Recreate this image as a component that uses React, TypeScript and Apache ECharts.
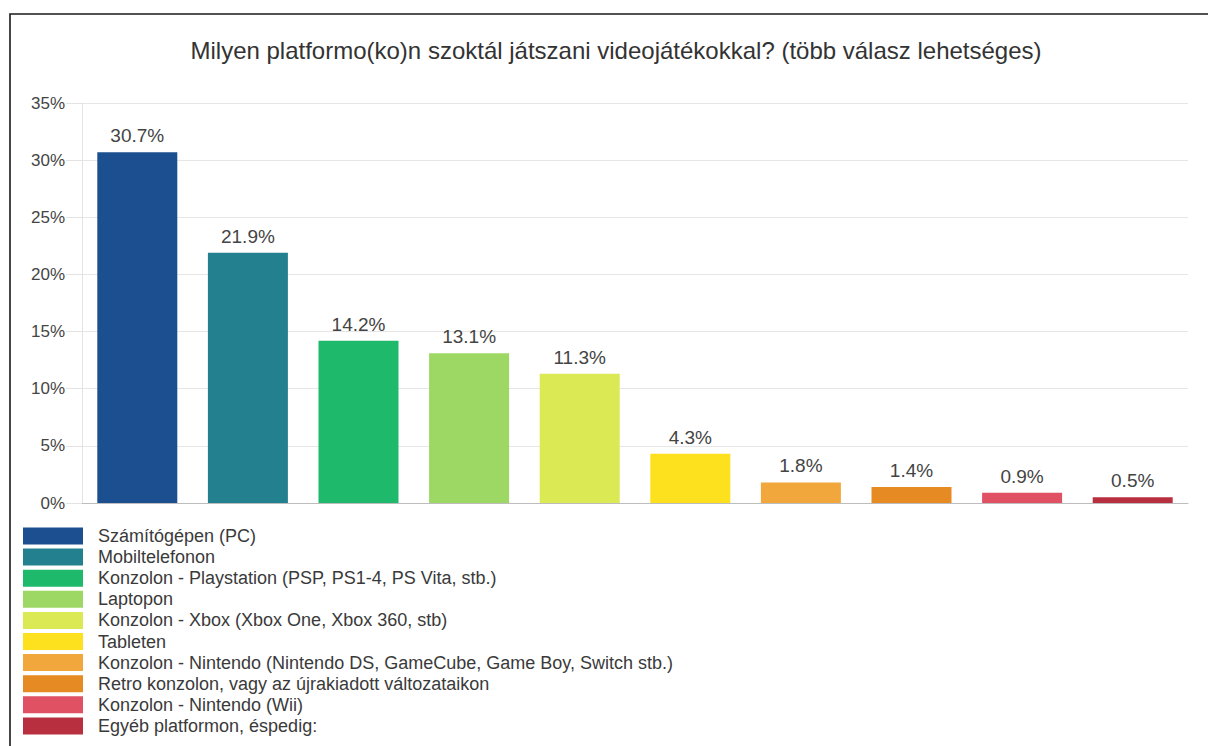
import React, { useEffect, useRef } from "react";
import * as echarts from "echarts";

const categories = [
  "Számítógépen (PC)",
  "Mobiltelefonon",
  "Konzolon - Playstation (PSP, PS1-4, PS Vita, stb.)",
  "Laptopon",
  "Konzolon - Xbox (Xbox One, Xbox 360, stb)",
  "Tableten",
  "Konzolon - Nintendo (Nintendo DS, GameCube, Game Boy, Switch stb.)",
  "Retro konzolon, vagy az újrakiadott változataikon",
  "Konzolon - Nintendo (Wii)",
  "Egyéb platformon, éspedig:",
];
const values = [30.7, 21.9, 14.2, 13.1, 11.3, 4.3, 1.8, 1.4, 0.9, 0.5];
const colors = [
  "#1b4f8f",
  "#23808f",
  "#1fb96c",
  "#9dd864",
  "#dbe955",
  "#fde11e",
  "#f1a73c",
  "#e68a23",
  "#e05263",
  "#b8303f",
];
const yTicks = [0, 5, 10, 15, 20, 25, 30, 35];
const titleText =
  "Milyen platformo(ko)n szoktál játszani videojátékokkal? (több válasz lehetséges)";

const FONT = "'Liberation Sans', Arial, sans-serif";

export default function App() {
  const ref = useRef<HTMLDivElement>(null);
  useEffect(() => {
    if (!ref.current) return;
    const chart = echarts.init(ref.current, null, { renderer: "svg" });
    const series = categories.map((name, i) => ({
      name,
      type: "bar",
      barWidth: 80,
      barGap: "-100%",
      itemStyle: { color: colors[i] },
      label: {
        show: true,
        position: "top",
        distance: 7,
        formatter: (p: any) => `${p.value}%`,
        fontSize: 19,
        color: "#444",
        fontFamily: FONT,
      },
      data: values.map((v, j) => (j === i ? v : "-")),
    }));
    chart.setOption({
      animation: false,
      backgroundColor: "#fff",
      textStyle: { fontFamily: FONT },
      title: {
        text: titleText,
        left: 616,
        textAlign: "center",
        top: 38,
        padding: 0,
        textStyle: { fontSize: 24, fontWeight: "normal", color: "#333", fontFamily: FONT },
      },
      graphic: [
        {
          type: "rect",
          shape: { x: 10, y: 14, width: 1300, height: 800 },
          style: { fill: "none", stroke: "#1a1a1a", lineWidth: 1.6 },
          silent: true,
        },
      ],
      legend: {
        orient: "vertical",
        left: 23,
        top: 527,
        padding: 0,
        itemWidth: 60,
        itemHeight: 17,
        itemGap: 3.1,
        icon: "rect",
        selectedMode: false,
        data: categories,
        textStyle: {
          fontSize: 18,
          color: "#3a3a3a",
          fontFamily: FONT,
          padding: [0, 0, 0, 10],
        },
      },
      grid: { left: 82, right: 20, top: 103, bottom: 243, containLabel: false },
      xAxis: {
        type: "category",
        data: categories,
        axisLabel: { show: false },
        axisTick: { show: false },
        axisLine: { lineStyle: { color: "#bdbdbd", width: 1 } },
      },
      yAxis: {
        type: "value",
        min: yTicks[0],
        max: yTicks[yTicks.length - 1],
        interval: 5,
        axisLabel: {
          formatter: "{value}%",
          fontSize: 17,
          color: "#444",
          margin: 17,
          fontFamily: FONT,
        },
        axisLine: { show: true, lineStyle: { color: "#e3e3e3" } },
        axisTick: { show: true, length: 16, lineStyle: { color: "#e3e3e3" } },
        splitLine: { lineStyle: { color: "#e6e6e6" } },
      },
      series,
    });
    return () => chart.dispose();
  }, []);
  return (
    <div
      ref={ref}
      style={{ position: "fixed", left: 0, top: 0, width: 1208, height: 746 }}
    />
  );
}
